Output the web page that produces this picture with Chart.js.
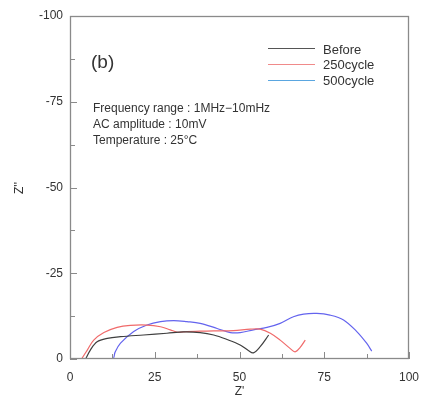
<!DOCTYPE html>
<html>
<head>
<meta charset="utf-8">
<script src="https://cdn.jsdelivr.net/npm/chart.js@4/dist/chart.umd.min.js"></script>
<style>
  html, body { margin: 0; padding: 0; background: #fff; }
  #wrap { width: 421px; height: 401px; }
</style>
</head>
<body>
<div id="wrap"><canvas id="nyquist"></canvas></div>
<script>
// Z' (real) and Z'' (imaginary) for each run
const beforeRe = [4.6, 6.0, 8.0, 11.0, 14.9, 21.7, 28.6, 33.5, 38.4, 42.4, 46.3, 50.2, 52.7, 54.1, 56.1, 58.6];
const beforeIm = [0, -2.6, -5.0, -6.0, -6.5, -7.0, -7.5, -7.9, -7.7, -7.0, -5.7, -4.1, -2.4, -1.8, -3.6, -7.0];

const cyc250Re = [3.4, 5.1, 7.0, 10.0, 13.9, 17.8, 22.7, 26.7, 29.6, 31.8, 34.5, 38.4, 42.4, 48.2, 53.2, 56.1, 59.1, 62.0, 64.9, 66.4, 67.9, 69.4];
const cyc250Im = [0, -2.6, -5.5, -7.7, -9.2, -9.8, -9.9, -9.4, -8.5, -7.8, -8.0, -8.1, -8.2, -8.3, -8.7, -8.7, -7.5, -5.5, -3.1, -2.1, -3.4, -5.5];

const cyc500Re = [7.8, 12.6, 13.3, 14.9, 18.8, 22.7, 26.7, 30.6, 34.5, 38.4, 43.4, 47.3, 50.2, 54.1, 58.1, 62.0, 65.9, 68.9, 72.8, 76.7, 80.7, 84.6, 87.5, 89.0];
const cyc500Im = [0, 0, -2.0, -4.6, -8.0, -9.9, -10.9, -11.2, -10.9, -10.4, -8.9, -7.7, -7.7, -8.5, -9.2, -10.4, -12.3, -13.1, -13.3, -12.8, -11.4, -8.0, -4.6, -2.3];

const xTicks = [0, 25, 50, 75, 100];
const yTicks = [0, -25, -50, -75, -100];
const minorStep = 12.5;

const notes = ["Frequency range : 1MHz\u221210mHz", "AC amplitude : 10mV", "Temperature : 25\u00b0C"];
const legendSwatches = ["#555555", "#f08a8a", "#5aa6e0"];

function toPoints(re, im) {
    return re.map((x, i) => ({ x, y: im[i] }));
}

const FONT = "'Liberation Sans', Arial, sans-serif";
const AXIS = "#8a8a8a";
const TEXT = "#333";

// inward tick marks, frame, legend and notes
const decorations = {
    id: "decorations",
    afterDraw(chart) {
        const { ctx, chartArea: a, scales: { x, y } } = chart;
        ctx.save();
        ctx.strokeStyle = AXIS;
        ctx.lineWidth = 1.3;
        ctx.strokeRect(a.left + 0.5, a.top + 0.5, a.right - a.left - 1, a.bottom - a.top - 1);

        ctx.lineWidth = 1;
        ctx.beginPath();
        for (let v = 0; v <= 100; v += minorStep) {
            const len = v % 25 === 0 ? 7 : 5;
            const px = Math.round(x.getPixelForValue(v)) + 0.5;
            ctx.moveTo(px, a.bottom);
            ctx.lineTo(px, a.bottom - len);
            const py = Math.round(y.getPixelForValue(-v)) + 0.5;
            ctx.moveTo(a.left, py);
            ctx.lineTo(a.left + len, py);
        }
        ctx.stroke();

        // axis titles
        ctx.fillStyle = TEXT;
        ctx.font = "12px " + FONT;
        ctx.textAlign = "center";
        ctx.textBaseline = "middle";
        ctx.fillText("Z'", (a.left + a.right) / 2, 392);
        ctx.save();
        ctx.translate(20, 188);
        ctx.rotate(-Math.PI / 2);
        ctx.fillText("Z''", 0, 0);
        ctx.restore();

        // panel label and measurement notes
        ctx.textAlign = "left";
        ctx.font = "19px " + FONT;
        ctx.fillText("(b)", 91, 63);
        ctx.font = "12px " + FONT;
        notes.forEach((t, i) => ctx.fillText(t, 93, 109 + i * 16));

        // legend
        ctx.font = "13px " + FONT;
        chart.data.datasets.forEach((ds, i) => {
            const ty = 50 + i * 15.8;
            const ly = Math.round(ty - 2) + 0.5;
            ctx.strokeStyle = legendSwatches[i];
            ctx.lineWidth = 1.2;
            ctx.beginPath();
            ctx.moveTo(268, ly);
            ctx.lineTo(315, ly);
            ctx.stroke();
            ctx.fillStyle = TEXT;
            ctx.fillText(ds.label, 323, ty);
        });
        ctx.restore();
    },
};

new Chart(document.getElementById("nyquist"), {
    type: "scatter",
    data: {
        datasets: [
            { label: "Before", data: toPoints(beforeRe, beforeIm), borderColor: "#3f3f3f" },
            { label: "250cycle", data: toPoints(cyc250Re, cyc250Im), borderColor: "#f06a6a" },
            { label: "500cycle", data: toPoints(cyc500Re, cyc500Im), borderColor: "#6464ee" },
        ].map((ds) => ({
            ...ds,
            showLine: true,
            borderWidth: 1.2,
            pointRadius: 0,
            tension: 0.35,
            fill: false,
        })),
    },
    plugins: [decorations],
    options: {
        responsive: true,
        maintainAspectRatio: false,
        animation: false,
        layout: { padding: { top: 16, right: 12, left: 0, bottom: 0 } },
        plugins: { legend: { display: false }, tooltip: { enabled: false } },
        scales: {
            x: {
                type: "linear",
                min: 0,
                max: 100,
                afterBuildTicks: (s) => { s.ticks = xTicks.map((v) => ({ value: v })); },
                afterFit: (s) => {
                    s.height = 42;
                    s.paddingLeft = 0;
                    s.paddingRight = 0;
                },
                grid: { display: false, drawTicks: false },
                border: { display: false },
                ticks: { padding: 11, color: TEXT, font: { size: 12, family: FONT } },
            },
            y: {
                type: "linear",
                min: -100,
                max: 0,
                reverse: true,
                afterBuildTicks: (s) => { s.ticks = yTicks.map((v) => ({ value: v })); },
                afterFit: (s) => {
                    s.width = 70;
                    s.paddingTop = 0;
                    s.paddingBottom = 0;
                },
                grid: { display: false, drawTicks: false },
                border: { display: false },
                ticks: { padding: 7, color: TEXT, font: { size: 12, family: FONT } },
            },
        },
    },
});
</script>
</body>
</html>
